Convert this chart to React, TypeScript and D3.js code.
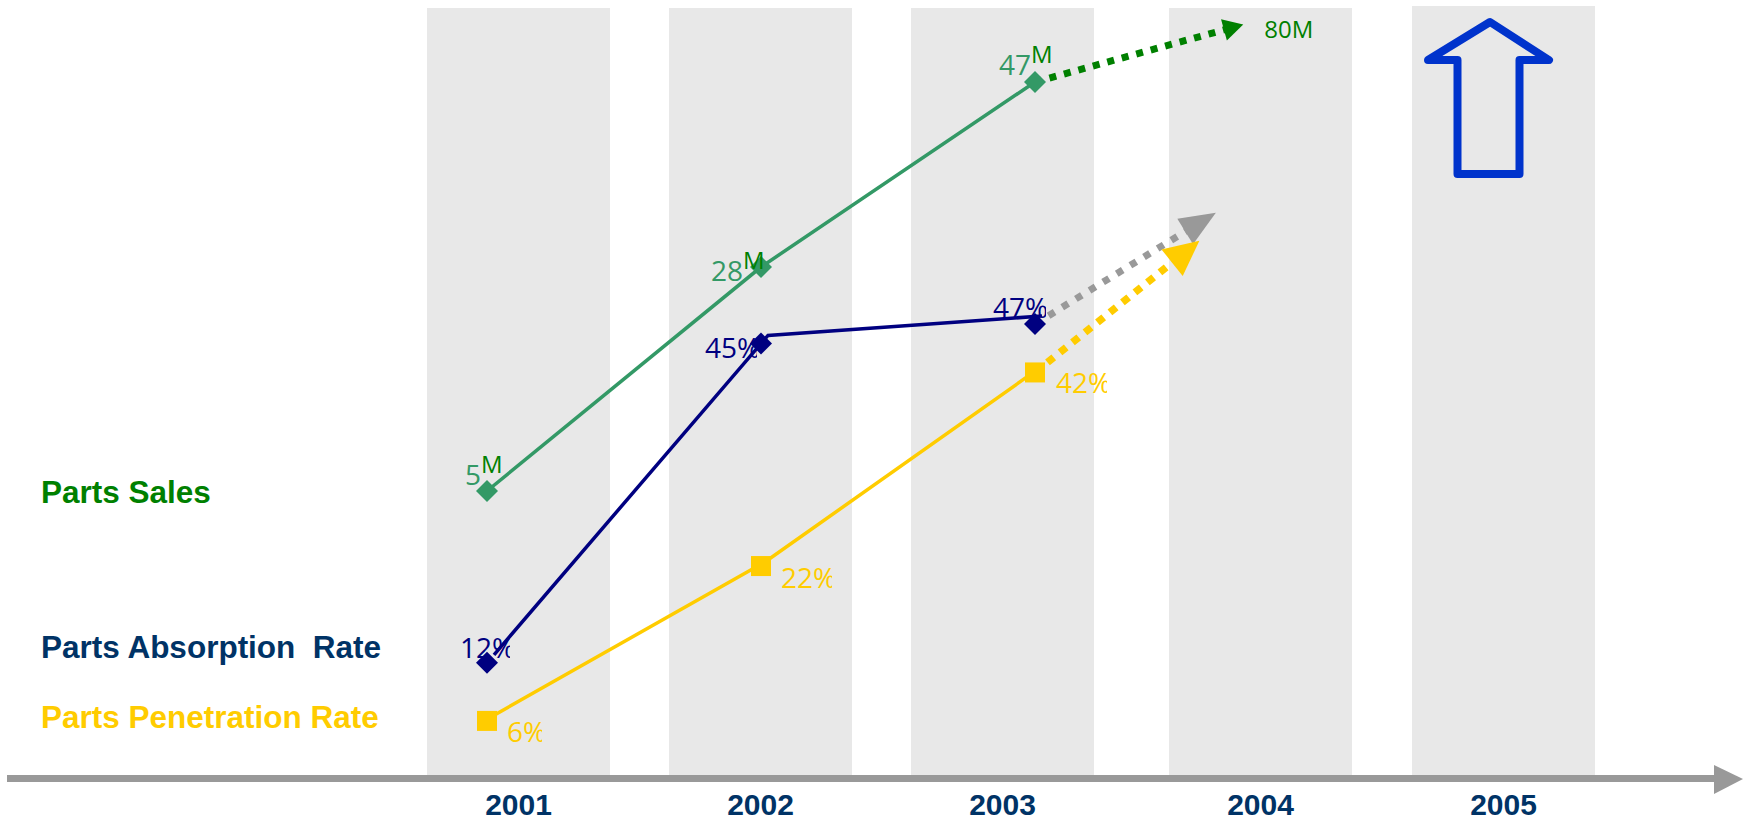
import React from "react";
import * as d3 from "d3";

// ---- data ----
const years = [2001, 2002, 2003];
const salesValues = [5, 28, 47];
const absorptionValues = [12, 45, 47];
const penetrationValues = [6, 22, 42];
const salesNumberLabels = ["5", "28", "47"];
const salesUnit = "M";
const absorptionLabels = ["12%", "45%", "47%"];
const penetrationLabels = ["6%", "22%", "42%"];
// projected trend arrows (year, value) of the arrow tips
const salesProjection = { year: 2003.76, value: 52.9, label: "80M" };
const absorptionProjection = { year: 2003.66, value: 58.5 };
const penetrationProjection = { year: 2003.6, value: 55.6 };
const axisYears = ["2001", "2002", "2003", "2004", "2005"];
const legendLabels = ["Parts Sales", "Parts Absorption  Rate", "Parts Penetration Rate"];

// ---- layout / style ----
const W = 1743;
const H = 821;
const bandLefts = [427, 669, 911, 1169, 1412];
const bandWidth = 183;
const axisY = 778.5;
const C = {
  band: "#E8E8E8",
  axis: "#999999",
  year: "#003366",
  salesLine: "#339966",
  salesDark: "#008000",
  blue: "#000080",
  yellow: "#FFCC00",
  gray: "#999999",
  legendBlue: "#003366",
  bigArrow: "#0033CC",
};
const valueFont = "'Open Sans', 'Noto Sans', sans-serif";
const boldFont = "'Liberation Sans', Arial, sans-serif";

const salesLabelOff = [[-22, -6], [-50, 14], [-36, -7]];
const absLabelOff = [[-27, -5], [-56, 15], [-42, -6]];
const penLabelOff = [[20, 21], [20, 22], [21, 21]];
const absClip = [50, 52, 53];
const penClip = [35, 51, 51];

const x = d3.scaleLinear().domain([2001, 2003]).range([487, 1035]);
const ySales = d3.scaleLinear().domain([5, 47]).range([491, 82]);
const yPct = d3.scaleLinear().domain([0, 50]).range([779, 295]);

function arrowParts(x0: number, y0: number, x1: number, y1: number, len: number, width: number) {
  const dx = x1 - x0, dy = y1 - y0;
  const d = Math.hypot(dx, dy);
  const ux = dx / d, uy = dy / d;
  const bx = x1 - ux * len, by = y1 - uy * len;
  const px = -uy, py = ux;
  const head = [
    [x1, y1],
    [bx + px * width / 2, by + py * width / 2],
    [bx - px * width / 2, by - py * width / 2],
  ];
  return { bx: bx + ux * 2, by: by + uy * 2, head: head.map(p => p.join(",")).join(" ") };
}

function Diamond({ cx, cy, r, fill }: { cx: number; cy: number; r: number; fill: string }) {
  return <path d={`M${cx},${cy - r}L${cx + r},${cy}L${cx},${cy + r}L${cx - r},${cy}Z`} fill={fill} />;
}

export default function App() {
  const line = d3.line<[number, number]>();
  const salesPts = years.map((yr, i) => [x(yr), ySales(salesValues[i])] as [number, number]);
  const absPts = years.map((yr, i) => [x(yr), yPct(absorptionValues[i])] as [number, number]);
  const penPts = years.map((yr, i) => [x(yr), yPct(penetrationValues[i])] as [number, number]);

  const sLast = salesPts[2];
  const aLast = absPts[2];
  const pLast = penPts[2];
  const sTip = [x(salesProjection.year), ySales(salesProjection.value)];
  const aTip = [x(absorptionProjection.year), yPct(absorptionProjection.value)];
  const pTip = [x(penetrationProjection.year), yPct(penetrationProjection.value)];
  const sArr = arrowParts(sLast[0], sLast[1], sTip[0], sTip[1], 20, 22);
  const aArr = arrowParts(aLast[0], aLast[1], aTip[0], aTip[1], 36, 30);
  const pArr = arrowParts(pLast[0], pLast[1], pTip[0], pTip[1], 35, 34);

  return (
    <svg width={W} height={H} viewBox={`0 0 ${W} ${H}`}
      style={{ position: "absolute", left: 0, top: 0, display: "block", background: "#fff" }}>
      <defs>
        {absPts.map((p, i) => (
          <clipPath id={`absclip${i}`} key={`ac${i}`}>
            <rect x={p[0] + absLabelOff[i][0] - 3} y={p[1] + absLabelOff[i][1] - 30} width={absClip[i] + 3} height={40} />
          </clipPath>
        ))}
        {penPts.map((p, i) => (
          <clipPath id={`penclip${i}`} key={`pc${i}`}>
            <rect x={p[0] + penLabelOff[i][0] - 3} y={p[1] + penLabelOff[i][1] - 30} width={penClip[i] + 3} height={40} />
          </clipPath>
        ))}
      </defs>

      {/* background year bands */}
      {bandLefts.map((bx, i) => (
        <rect key={`b${i}`} x={bx} y={i === 4 ? 6 : 8} width={bandWidth} height={775 - (i === 4 ? 6 : 8)} fill={C.band} />
      ))}

      {/* axis */}
      <line x1={7} x2={1716} y1={axisY} y2={axisY} stroke={C.axis} strokeWidth={7} />
      <polygon points={`1714,765 1743,779 1714,794`} fill={C.axis} />
      {axisYears.map((t, i) => (
        <text key={`y${t}`} x={bandLefts[i] + bandWidth / 2} y={815} textAnchor="middle"
          fontFamily={boldFont} fontWeight="bold" fontSize={30} fill={C.year}>{t}</text>
      ))}

      {/* legend labels */}
      <text x={41} y={503} fontFamily={boldFont} fontWeight="bold" fontSize={31.5} fill={C.salesDark}>{legendLabels[0]}</text>
      <text x={41} y={658} fontFamily={boldFont} fontWeight="bold" fontSize={31.5} fill={C.legendBlue} style={{ whiteSpace: "pre" }}>{legendLabels[1]}</text>
      <text x={41} y={728} fontFamily={boldFont} fontWeight="bold" fontSize={31.5} fill={C.yellow}>{legendLabels[2]}</text>

      {/* dotted projections */}
      <line x1={sLast[0]} y1={sLast[1]} x2={sArr.bx} y2={sArr.by} stroke={C.salesDark} strokeWidth={7} strokeDasharray="7 8" />
      <polygon points={sArr.head} fill={C.salesDark} />
      <line x1={aLast[0]} y1={aLast[1]} x2={aArr.bx} y2={aArr.by} stroke={C.gray} strokeWidth={7} strokeDasharray="7 9" />
      <polygon points={aArr.head} fill={C.gray} />
      <line x1={pLast[0]} y1={pLast[1]} x2={pArr.bx} y2={pArr.by} stroke={C.yellow} strokeWidth={7.5} strokeDasharray="8 8" />
      <polygon points={pArr.head} fill={C.yellow} />
      <text x={sTip[0] + 21} y={sTip[1] + 13} fontFamily={valueFont} fontSize={24} fill={C.salesDark}>{salesProjection.label}</text>

      {/* series lines */}
      <path d={line(salesPts) || ""} fill="none" stroke={C.salesLine} strokeWidth={3.5} />
      <path d={line(absPts) || ""} fill="none" stroke={C.blue} strokeWidth={3.5} transform="translate(7,-8)" />
      <path d={line(penPts) || ""} fill="none" stroke={C.yellow} strokeWidth={3.5} transform="translate(4,-4)" />

      {/* markers */}
      {salesPts.map((p, i) => <Diamond key={`sd${i}`} cx={p[0]} cy={p[1]} r={11} fill={C.salesLine} />)}
      {absPts.map((p, i) => <Diamond key={`ad${i}`} cx={p[0]} cy={p[1]} r={11} fill={C.blue} />)}
      {penPts.map((p, i) => (
        <rect key={`pr${i}`} x={p[0] - 10} y={p[1] - 10} width={20} height={20} fill={C.yellow} />
      ))}

      {/* value labels */}
      {salesPts.map((p, i) => (
        <text key={`sl${i}`} x={p[0] + salesLabelOff[i][0]} y={p[1] + salesLabelOff[i][1]}
          fontFamily={valueFont} fontSize={28} fill={C.salesLine}>
          {salesNumberLabels[i]}
          <tspan dy={-12} fontSize={24} fill={C.salesDark}>{salesUnit}</tspan>
        </text>
      ))}
      {absPts.map((p, i) => (
        <text key={`al${i}`} x={p[0] + absLabelOff[i][0]} y={p[1] + absLabelOff[i][1]} clipPath={`url(#absclip${i})`}
          fontFamily={valueFont} fontSize={28} fill={C.blue}>{absorptionLabels[i]}</text>
      ))}
      {penPts.map((p, i) => (
        <text key={`pl${i}`} x={p[0] + penLabelOff[i][0]} y={p[1] + penLabelOff[i][1]} clipPath={`url(#penclip${i})`}
          fontFamily={valueFont} fontSize={28} fill={C.yellow}>{penetrationLabels[i]}</text>
      ))}

      {/* big up arrow */}
      <polygon points="1490,22 1549,60 1519.5,60 1519.5,174 1457.5,174 1457.5,60 1428,60"
        fill="none" stroke={C.bigArrow} strokeWidth={8} strokeLinejoin="round" />
    </svg>
  );
}
